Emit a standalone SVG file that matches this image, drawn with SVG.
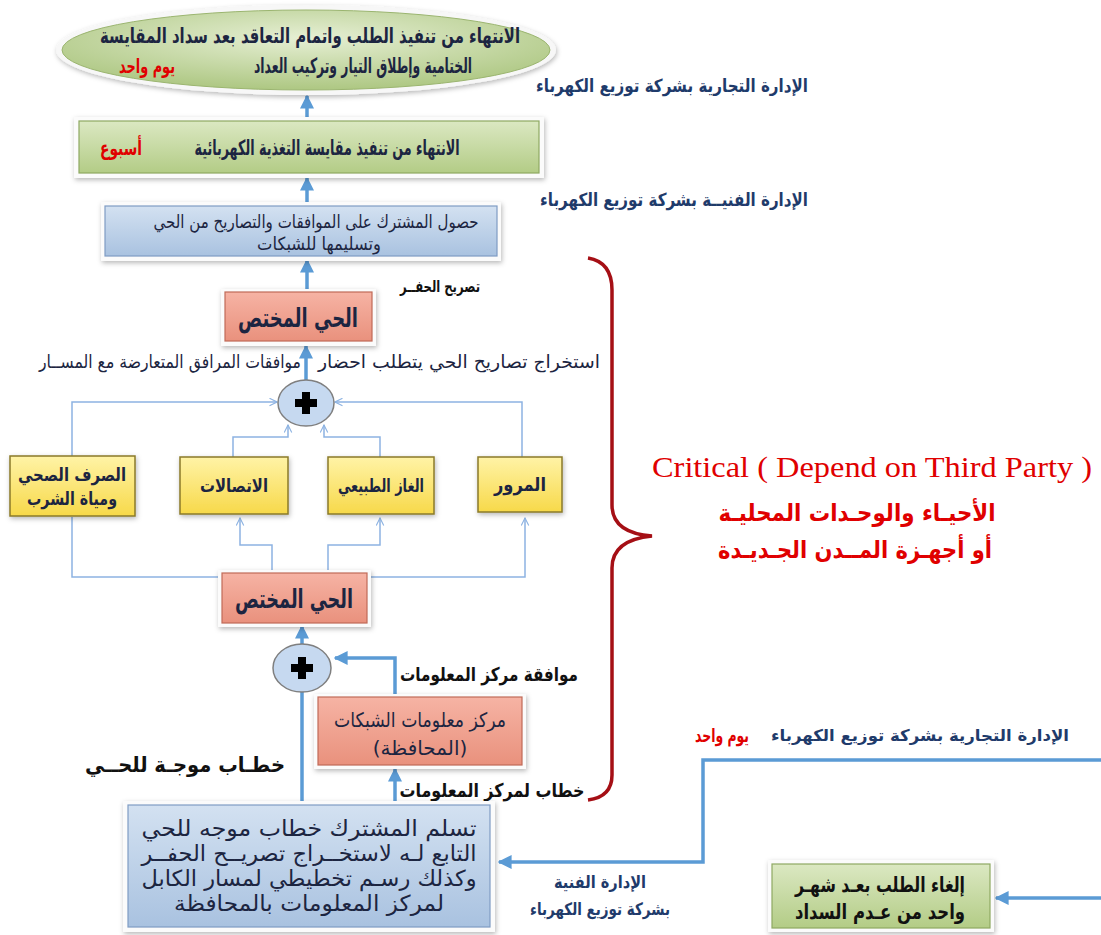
<svg xmlns="http://www.w3.org/2000/svg" width="1101" height="935" viewBox="0 0 1101 935">
<defs>
<linearGradient id="gGreen" x1="0" y1="0" x2="0" y2="1"><stop offset="0" stop-color="#dbe8c2"/><stop offset="1" stop-color="#b3cc86"/></linearGradient>
<linearGradient id="gBlue" x1="0" y1="0" x2="0" y2="1"><stop offset="0" stop-color="#d3e1f1"/><stop offset="1" stop-color="#a9c2e0"/></linearGradient>
<linearGradient id="gRed" x1="0" y1="0" x2="0" y2="1"><stop offset="0" stop-color="#f6b3a4"/><stop offset="1" stop-color="#e9917d"/></linearGradient>
<linearGradient id="gYellow" x1="0" y1="0" x2="0" y2="1"><stop offset="0" stop-color="#fff3a6"/><stop offset="1" stop-color="#f7d94a"/></linearGradient>
<radialGradient id="gEll" cx="0.5" cy="0.35" r="0.7"><stop offset="0" stop-color="#e6efd4"/><stop offset="1" stop-color="#a9c47c"/></radialGradient>
<filter id="sh" x="-10%" y="-20%" width="120%" height="150%"><feDropShadow dx="1" dy="2" stdDeviation="2.5" flood-color="#000" flood-opacity="0.28"/></filter>
<marker id="aThick" viewBox="0 0 10 10" refX="9" refY="5" markerWidth="4" markerHeight="4" orient="auto"><path d="M0,0 L10,5 L0,10 Z" fill="#5b9bd5"/></marker>
<marker id="aThin" viewBox="0 0 12 12" refX="11" refY="6" markerWidth="9" markerHeight="9" markerUnits="userSpaceOnUse" orient="auto"><path d="M1,1 L11,6 L1,11" fill="none" stroke="#8db3e2" stroke-width="1.5"/></marker>
</defs>
<style>
.ar{font-family:"DejaVu Sans",sans-serif;direction:rtl}
.b{font-weight:bold}
.navy{fill:#1c2541}
.lbl{fill:#1f3b6b;font-weight:bold}
.red{fill:#e00000}
.blk{fill:#111}
.thick{fill:none;stroke:#5b9bd5;stroke-width:3.5}
.thin{fill:none;stroke:#8db3e2;stroke-width:1.5}
.frame{fill:#fbfbfb;filter:url(#sh)}
.bev{stroke-width:1.2}
</style>
<rect width="1101" height="935" fill="#ffffff"/>

<g id="connectors">
<path class="thick" d="M307 118 V96" marker-end="url(#aThick)"/>
<path class="thick" d="M307 204 V178" marker-end="url(#aThick)"/>
<path class="thick" d="M307 290 V260" marker-end="url(#aThick)"/>
<path class="thick" d="M306 380 V346" marker-end="url(#aThick)"/>
<path class="thin" d="M72 457 V402 H277" marker-end="url(#aThin)"/>
<path class="thin" d="M522 457 V402 H335" marker-end="url(#aThin)"/>
<path class="thin" d="M233 457 V437 H288 V425" marker-end="url(#aThin)"/>
<path class="thin" d="M380 457 V437 H324 V425" marker-end="url(#aThin)"/>
<path class="thin" d="M222 577 H72 V517"/>
<path class="thin" d="M272 573 V545 H240 V518" marker-end="url(#aThin)"/>
<path class="thin" d="M328 573 V545 H380 V518" marker-end="url(#aThin)"/>
<path class="thin" d="M367 577 H525 V518" marker-end="url(#aThin)"/>
<path class="thick" d="M302 644 V626" marker-end="url(#aThick)"/>
<path class="thick" d="M302 805 V692"/>
<path class="thick" d="M395 697 V658 H335" marker-end="url(#aThick)"/>
<path class="thick" d="M395 805 V769" marker-end="url(#aThick)"/>
<path class="thick" d="M1101 760 H703 V862 H499" marker-end="url(#aThick)"/>
<path class="thick" d="M1101 898 H996" marker-end="url(#aThick)"/>
</g>

<g id="brace">
<path d="M588 258 Q612 262 612 290 V505 Q612 533 652 536 Q612 540 612 568 V775 Q612 797 588 800" fill="none" stroke="#a50f15" stroke-width="3.5"/>
</g>

<g id="n-final">
<ellipse cx="306" cy="50" rx="250" ry="45" fill="#f7f7f7" filter="url(#sh)"/>
<ellipse cx="306" cy="50" rx="244" ry="40" fill="url(#gEll)" stroke="#9bb570" stroke-width="1"/>
<text class="ar b navy" x="310" y="43" font-size="21" text-anchor="middle" textLength="420" lengthAdjust="spacingAndGlyphs">الانتهاء من تنفيذ الطلب واتمام التعاقد بعد سداد المقايسة</text>
<text class="ar b navy" x="363" y="73" font-size="21" text-anchor="middle" textLength="218" lengthAdjust="spacingAndGlyphs">الختامية وإطلاق التيار وتركيب العداد</text>
<text class="ar b red" x="147" y="73" font-size="20" text-anchor="middle" textLength="56" lengthAdjust="spacingAndGlyphs">يوم واحد</text>
</g>

<g id="lbl-commercial-top">
<text class="ar lbl" x="672" y="92" font-size="18" text-anchor="middle" textLength="272" lengthAdjust="spacingAndGlyphs">الإدارة التجارية بشركة توزيع الكهرباء</text>
</g>

<g id="n-feeding">
<rect class="frame" x="74" y="117" width="470" height="61"/>
<rect x="79" y="121" width="460" height="52" fill="url(#gGreen)" stroke="#8ea862" class="bev"/>
<text class="ar b navy" x="327" y="155" font-size="21" text-anchor="middle" textLength="265" lengthAdjust="spacingAndGlyphs">الانتهاء من تنفيذ مقايسة التغذية الكهربائية</text>
<text class="ar b red" x="121" y="155" font-size="20" text-anchor="middle" textLength="42" lengthAdjust="spacingAndGlyphs">أسبوع</text>
</g>

<g id="lbl-technical-top">
<text class="ar lbl" x="674" y="206" font-size="18" text-anchor="middle" textLength="268" lengthAdjust="spacingAndGlyphs">الإدارة الفنيــة بشركة توزيع الكهرباء</text>
</g>

<g id="n-approvals">
<rect class="frame" x="101" y="202" width="400" height="59"/>
<rect x="105" y="206" width="392" height="50" fill="url(#gBlue)" stroke="#7f9cc4" class="bev"/>
<text class="ar navy" x="316" y="228" font-size="18" text-anchor="middle" textLength="325" lengthAdjust="spacingAndGlyphs">حصول المشترك على الموافقات والتصاريح من الحي</text>
<text class="ar navy" x="319" y="250" font-size="18" text-anchor="middle" textLength="124" lengthAdjust="spacingAndGlyphs">وتسليمها للشبكات</text>
</g>

<g id="n-district-top">
<rect class="frame" x="221" y="289" width="155" height="57"/>
<rect x="225" y="292" width="147" height="49" fill="url(#gRed)" stroke="#c06a58" class="bev"/>
<text class="ar b navy" x="298" y="327" font-size="26" text-anchor="middle" textLength="120" lengthAdjust="spacingAndGlyphs">الحي المختص</text>
</g>

<g id="lbl-dig">
<text class="ar b blk" x="440" y="292" font-size="16" text-anchor="middle" textLength="80" lengthAdjust="spacingAndGlyphs">تصريح الحفــر</text>
</g>

<g id="lbl-requirement">
<text class="ar navy" x="459" y="368" font-size="18" text-anchor="middle" textLength="282" lengthAdjust="spacingAndGlyphs">استخراج تصاريح الحي يتطلب احضار</text>
<text class="ar navy" x="170" y="368" font-size="18" text-anchor="middle" textLength="262" lengthAdjust="spacingAndGlyphs">موافقات المرافق المتعارضة مع المســار</text>
</g>

<g id="n-plus-top">
<ellipse cx="306" cy="403" rx="28" ry="23" fill="#c6d9f0" stroke="#7f7f7f" stroke-width="1.5"/>
<rect x="295" y="399" width="22" height="8" fill="#000"/>
<rect x="302" y="392" width="8" height="22" fill="#000"/>
</g>

<g id="n-sewage">
<rect x="10" y="456" width="125" height="60" fill="url(#gYellow)" stroke="#8a7a2a" stroke-width="1.5" filter="url(#sh)"/>
<text class="ar b navy" x="72" y="481" font-size="18" text-anchor="middle" textLength="108" lengthAdjust="spacingAndGlyphs">الصرف الصحي</text>
<text class="ar b navy" x="72" y="505" font-size="18" text-anchor="middle" textLength="90" lengthAdjust="spacingAndGlyphs">ومياة الشرب</text>
</g>
<g id="n-telecom">
<rect x="180" y="457" width="108" height="57" fill="url(#gYellow)" stroke="#8a7a2a" stroke-width="1.5" filter="url(#sh)"/>
<text class="ar b navy" x="234" y="492" font-size="18" text-anchor="middle" textLength="68" lengthAdjust="spacingAndGlyphs">الاتصالات</text>
</g>
<g id="n-gas">
<rect x="328" y="457" width="106" height="57" fill="url(#gYellow)" stroke="#8a7a2a" stroke-width="1.5" filter="url(#sh)"/>
<text class="ar b navy" x="381" y="492" font-size="18" text-anchor="middle" textLength="86" lengthAdjust="spacingAndGlyphs">الغاز الطبيعي</text>
</g>
<g id="n-traffic">
<rect x="478" y="457" width="84" height="55" fill="url(#gYellow)" stroke="#8a7a2a" stroke-width="1.5" filter="url(#sh)"/>
<text class="ar b navy" x="520" y="491" font-size="19" text-anchor="middle" textLength="52" lengthAdjust="spacingAndGlyphs">المرور</text>
</g>

<g id="n-district-bottom">
<rect class="frame" x="218" y="570" width="153" height="57"/>
<rect x="222" y="573" width="145" height="50" fill="url(#gRed)" stroke="#c06a58" class="bev"/>
<text class="ar b navy" x="294" y="608" font-size="26" text-anchor="middle" textLength="118" lengthAdjust="spacingAndGlyphs">الحي المختص</text>
</g>

<g id="n-plus-bottom">
<ellipse cx="302" cy="668" rx="29" ry="24" fill="#c6d9f0" stroke="#7f7f7f" stroke-width="1.5"/>
<rect x="291" y="664" width="22" height="8" fill="#000"/>
<rect x="298" y="657" width="8" height="22" fill="#000"/>
</g>

<g id="lbl-center-approval">
<text class="ar b blk" x="489" y="681" font-size="19" text-anchor="middle" textLength="178" lengthAdjust="spacingAndGlyphs">موافقة مركز المعلومات</text>
</g>

<g id="n-info-center">
<rect class="frame" x="314" y="694" width="212" height="75"/>
<rect x="318" y="697" width="204" height="68" fill="url(#gRed)" stroke="#c06a58" class="bev"/>
<text class="ar navy" x="420" y="727" font-size="20" text-anchor="middle" textLength="172" lengthAdjust="spacingAndGlyphs">مركز معلومات الشبكات</text>
<text class="ar navy" x="420" y="755" font-size="20" text-anchor="middle">(المحافظة)</text>
</g>

<g id="lbl-letter-district">
<text class="ar b blk" x="185" y="772" font-size="21" text-anchor="middle" textLength="200" lengthAdjust="spacingAndGlyphs">خطـاب موجـة للحــي</text>
</g>
<g id="lbl-letter-center">
<text class="ar b blk" x="492" y="797" font-size="19" text-anchor="middle" textLength="185" lengthAdjust="spacingAndGlyphs">خطاب لمركز المعلومات</text>
</g>

<g id="n-receive">
<rect class="frame" x="123" y="801" width="372" height="131"/>
<rect x="128" y="805" width="362" height="122" fill="url(#gBlue)" stroke="#7f9cc4" class="bev"/>
<text class="ar navy" x="309" y="836" font-size="22" text-anchor="middle" textLength="335" lengthAdjust="spacingAndGlyphs">تسلم المشترك خطاب موجه للحي</text>
<text class="ar navy" x="309" y="861" font-size="22" text-anchor="middle" textLength="335" lengthAdjust="spacingAndGlyphs">التابع لـه لاستخــراج تصريــح الحفــر</text>
<text class="ar navy" x="309" y="886" font-size="22" text-anchor="middle" textLength="335" lengthAdjust="spacingAndGlyphs">وكذلك رسـم تخطيطي لمسار الكابل</text>
<text class="ar navy" x="309" y="911" font-size="22" text-anchor="middle" textLength="270" lengthAdjust="spacingAndGlyphs">لمركز المعلومات بالمحافظة</text>
</g>

<g id="lbl-commercial-bottom">
<text class="ar lbl" x="920" y="741" font-size="16" text-anchor="middle" textLength="298" lengthAdjust="spacingAndGlyphs">الإدارة التجارية بشركة توزيع الكهرباء</text>
<text class="ar b red" x="722" y="742" font-size="19" text-anchor="middle" textLength="54" lengthAdjust="spacingAndGlyphs">يوم واحد</text>
</g>

<g id="lbl-technical-bottom">
<text class="ar lbl" x="600" y="888" font-size="17" text-anchor="middle" textLength="92" lengthAdjust="spacingAndGlyphs">الإدارة الفنية</text>
<text class="ar lbl" x="600" y="915" font-size="17" text-anchor="middle" textLength="140" lengthAdjust="spacingAndGlyphs">بشركة توزيع الكهرباء</text>
</g>

<g id="n-cancel">
<rect class="frame" x="768" y="860" width="226" height="72"/>
<rect x="772" y="864" width="218" height="64" fill="url(#gGreen)" stroke="#8ea862" class="bev"/>
<text class="ar b blk" x="880" y="892" font-size="21" text-anchor="middle" textLength="170" lengthAdjust="spacingAndGlyphs">إلغاء الطلب بعـد شهـر</text>
<text class="ar b blk" x="880" y="919" font-size="21" text-anchor="middle" textLength="170" lengthAdjust="spacingAndGlyphs">واحد من عـدم السداد</text>
</g>

<g id="lbl-critical">
<text x="872" y="477" font-family="Liberation Serif, serif" font-size="30" fill="#e00000" text-anchor="middle" textLength="440" lengthAdjust="spacingAndGlyphs">Critical ( Depend on Third Party )</text>
<text class="ar b red" x="857" y="521" font-size="24" text-anchor="middle" textLength="277" lengthAdjust="spacingAndGlyphs">الأحيـاء والوحـدات المحليـة</text>
<text class="ar b red" x="855" y="558" font-size="24" text-anchor="middle" textLength="274" lengthAdjust="spacingAndGlyphs">أو أجهـزة المــدن الجـديـدة</text>
</g>
</svg>
